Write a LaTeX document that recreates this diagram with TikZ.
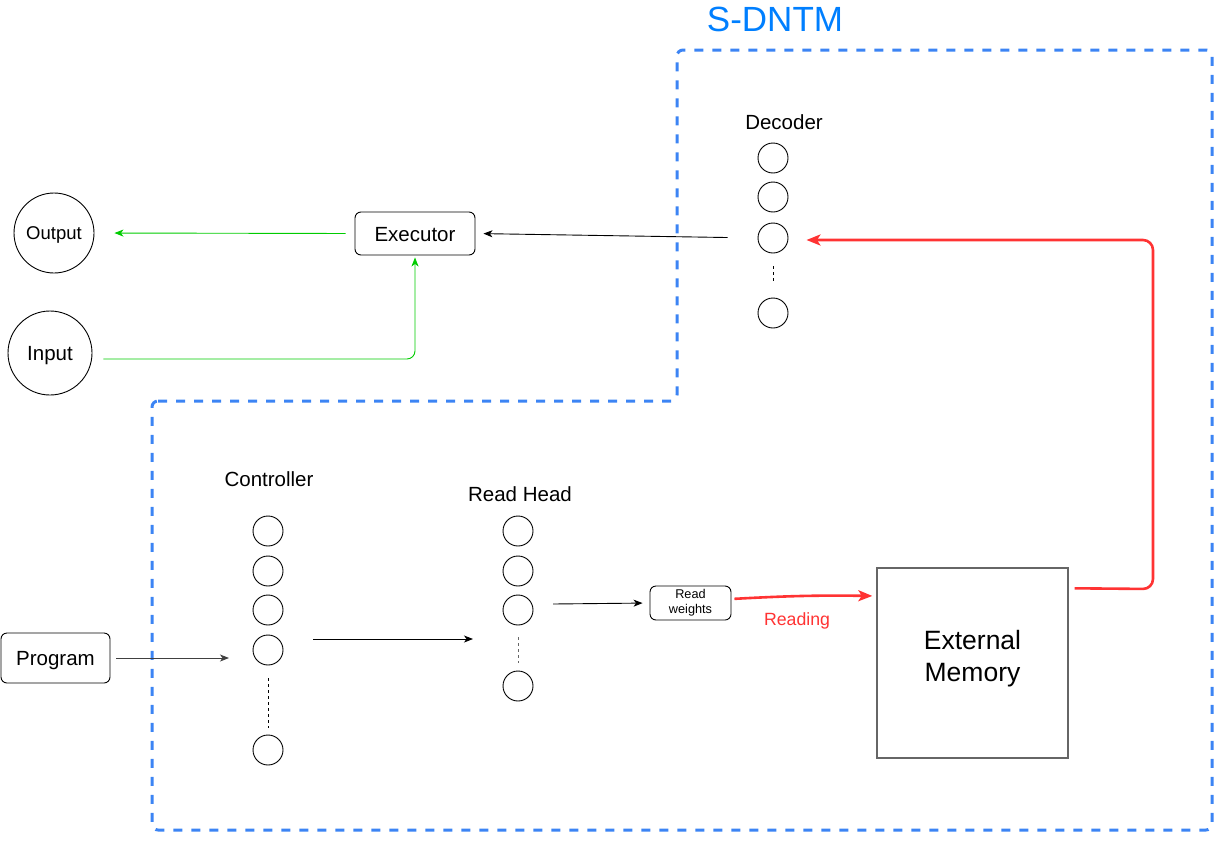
\documentclass[tikz,border=0pt]{standalone}
\usepackage{fontspec}
\setmainfont{Liberation Sans}
\usetikzlibrary{arrows.meta}
\definecolor{sblue}{RGB}{60,132,244}
\definecolor{tblue}{RGB}{0,127,255}
\definecolor{sgreen}{RGB}{0,204,0}
\definecolor{sred}{RGB}{255,51,51}
\definecolor{sgray}{RGB}{102,102,102}
\tikzset{
  unit/.style={circle,draw,line width=0.9pt,minimum size=30pt,inner sep=0pt},
  lbl/.style={font=\fontsize{20.5}{24}\selectfont},
  rbox/.style={draw,rounded corners=6pt,line width=0.9pt,inner sep=0pt,align=center},
  arr/.style={-{Stealth[length=9pt,width=7pt,inset=2.5pt]},line width=0.9pt},
  garr/.style={arr,draw=sgreen},
  rarr/.style={-{Stealth[length=14pt,width=11pt,inset=3.5pt]},line width=2.6pt,draw=sred},
  dots/.style={dash pattern=on 3pt off 3pt,line width=1pt},
  sdash/.style={draw=sblue,line width=3pt,dash pattern=on 9pt off 9pt}
}
\begin{document}
\begin{tikzpicture}[x=1pt,y=-1pt]
\useasboundingbox (0,0) rectangle (1217,862);
% dashed outline
\draw[sdash,rounded corners=6pt] (152,401) -- (677,401) -- (677,50) -- (1212,50) -- (1212,830) -- (152,830) -- cycle;
\node[text=tblue,font=\fontsize{35}{40}\selectfont] (title) at (775,19) {S-DNTM};
% Decoder
\node[lbl] (declbl) at (784,122) {Decoder};
\node[unit] (d1) at (773,158) {};
\node[unit] (d2) at (773,197) {};
\node[unit] (d3) at (773,238) {};
\node[unit] (d4) at (773,313) {};
\draw[dots] ([yshift=-13pt]d3.south) -- ([yshift=17pt]d4.north);
% Executor, output, input
\node[rbox,minimum width=120pt,minimum height=43pt,lbl,text depth=0pt,text height=15pt] (exec) at (415,233.5) {Executor};
\node[circle,draw,line width=0.9pt,minimum size=80pt,inner sep=0pt,font=\fontsize{18.5}{22}\selectfont,text depth=0pt,text height=13pt] (out) at (54,233) {Output};
\node[circle,draw,line width=0.9pt,minimum size=84pt,inner sep=0pt,lbl,text depth=0pt,text height=15pt] (in) at (50,353) {Input};
\draw[arr,shorten <=30pt,shorten >=8pt] (d3.west) -- (exec.east);
\draw[garr,shorten <=9pt,shorten >=20pt] (exec.west) -- (out.east);
\draw[garr,rounded corners=8pt] ([shift={(11pt,-6pt)}]in.east) -| ([yshift=-2pt]exec.south);
% Controller
\node[lbl] (ctllbl) at (269,479) {Controller};
\node[unit] (c1) at (268,531) {};
\node[unit] (c2) at (268,571) {};
\node[unit] (c3) at (268,610) {};
\node[unit] (c4) at (268,650) {};
\node[unit] (c5) at (268,750) {};
\draw[dots] ([yshift=-13pt]c4.south) -- ([yshift=7pt]c5.north);
% Read head
\node[lbl] (rhlbl) at (520,494) {Read Head};
\node[unit] (r1) at (518,531) {};
\node[unit] (r2) at (518,571) {};
\node[unit] (r3) at (518,610) {};
\node[unit] (r4) at (518,686) {};
\draw[dots,draw=sgray] ([yshift=-12pt]r3.south) -- ([yshift=8pt]r4.north);
% Program
\node[rbox,minimum width=109pt,minimum height=50pt,lbl,text depth=0pt,text height=15pt] (prog) at (55.5,658) {Program};
\coordinate (cin) at (229,658);
\draw[arr,draw=black!75,shorten <=6pt] (prog.east) -- (cin);
\coordinate (cout) at (313,639);
\coordinate (rin) at (473,639);
\draw[arr] (cout) -- (rin);
% Read weights
\node[rbox,minimum width=81pt,minimum height=34pt,font=\fontsize{12.7}{15}\selectfont] (rw) at (690.5,603) {Read\\weights};
\coordinate (rout) at (553,604);
\draw[arr,shorten >=7pt] (rout) -- (rw.west);
% External memory
\node[draw=sgray,line width=1.4pt,minimum width=191pt,minimum height=190pt,inner sep=0pt] (mem) at (972.5,663) {};
\node[align=center,font=\fontsize{26.5}{32}\selectfont] (memtxt) at (972.5,659) {External\\Memory};
\draw[rarr,shorten <=3pt,shorten >=4pt] ([yshift=4pt]rw.east) to[bend left=2] ([yshift=7pt]mem.west |- rw.east);
\node[text=sred,font=\fontsize{17.7}{21}\selectfont] (rdlbl) at (797,621) {Reading};
\draw[rarr,rounded corners=10pt,shorten >=18pt] ([shift={(6pt,-21pt)}]mem.north east) -- (1153,589) -- (1153,240) -- (d3.east |- 0,240);
\end{tikzpicture}
\end{document}
